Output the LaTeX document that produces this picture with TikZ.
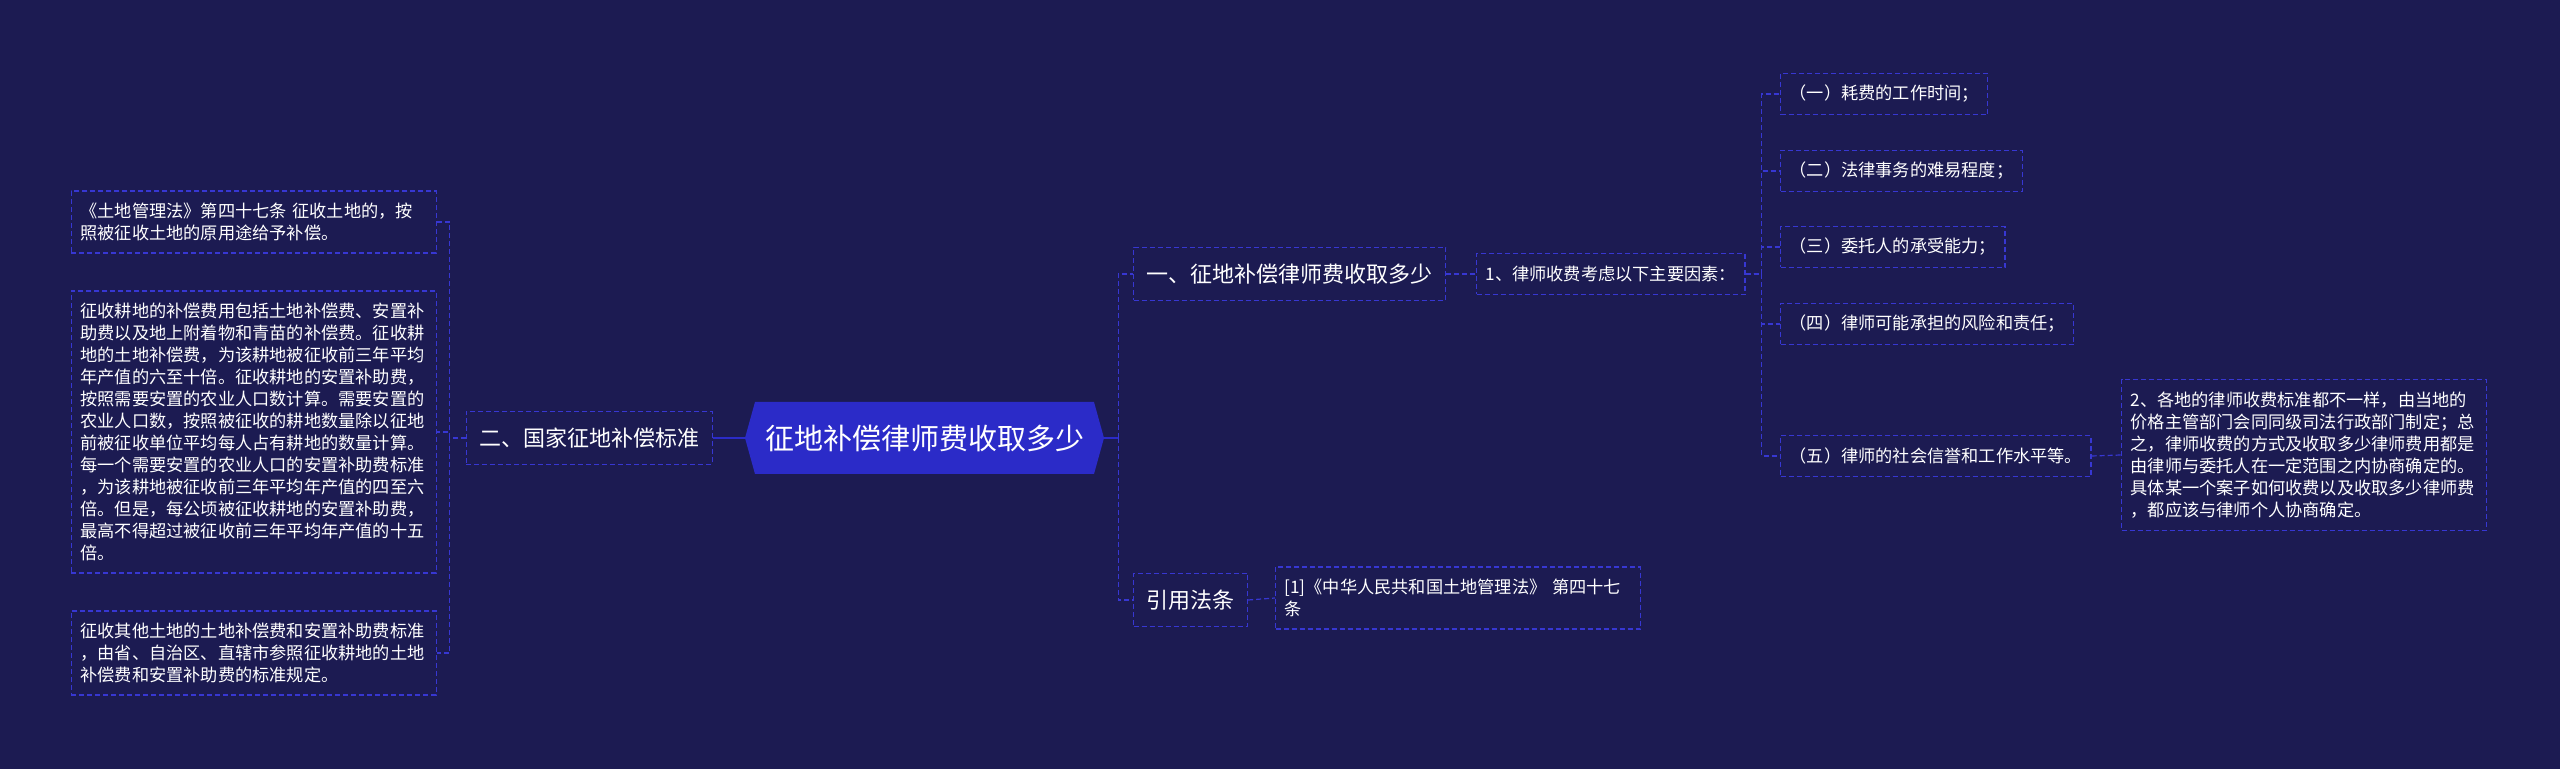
\documentclass[tikz,border=0pt]{standalone}
\usepackage{fontspec}
\setmainfont{Noto Sans CJK SC}
\usepackage{xcolor}
\usepackage{tikz}
\definecolor{navy}{RGB}{28,27,82}
\definecolor{hexblue}{RGB}{43,43,200}
\definecolor{linkblue}{RGB}{55,55,210}

\begin{document}
\begin{tikzpicture}[x=0.5pt, y=-0.5pt,
  box/.style={draw=linkblue, line width=0.6pt, dash pattern=on 2.5pt off 1.5pt, text=white},
  leaf/.style={box, font=\fontsize{8.6}{11}\selectfont, text width=173.5pt, align=left, inner xsep=4.5pt, inner ysep=6pt},
  itembox/.style={box, font=\fontsize{8.6}{11}\selectfont, inner xsep=4.5pt, minimum height=20.5pt},
  topic/.style={box, font=\fontsize{11}{14}\selectfont, inner xsep=6.5pt, minimum height=26.5pt},
  link/.style={draw=linkblue, line width=0.6pt, dash pattern=on 2.5pt off 1.5pt},
  rootlink/.style={draw=hexblue, line width=1pt}]
 \fill [navy] (0,0) rectangle (2560,769);
 % root
 \fill [hexblue] (745,438) -- ++(10,-36) -- ++(339,0) -- ++(10,36) -- ++(-10,36) -- ++(-339,0) -- cycle;
 \node [text=white, font=\fontsize{14.5}{18}\selectfont, minimum width=179.5pt, minimum height=36pt, inner sep=0pt] (root) at (924.5,438) {征地补偿律师费收取多少};
 % left side
 \node [topic, anchor=east] (er) at (713,438) {二、国家征地补偿标准};
 \node [leaf, anchor=east] (l1) at (437,222) {《土地管理法》第四十七条 征收土地的，按\\照被征收土地的原用途给予补偿。};
 \node [leaf, anchor=east] (l2) at (437,432) {征收耕地的补偿费用包括土地补偿费、安置补\\助费以及地上附着物和青苗的补偿费。征收耕\\地的土地补偿费，为该耕地被征收前三年平均\\年产值的六至十倍。征收耕地的安置补助费，\\按照需要安置的农业人口数计算。需要安置的\\农业人口数，按照被征收的耕地数量除以征地\\前被征收单位平均每人占有耕地的数量计算。\\每一个需要安置的农业人口的安置补助费标准\\，为该耕地被征收前三年平均年产值的四至六\\倍。但是，每公顷被征收耕地的安置补助费，\\最高不得超过被征收前三年平均年产值的十五\\倍。};
 \node [leaf, anchor=east] (l3) at (437,653) {征收其他土地的土地补偿费和安置补助费标准\\，由省、自治区、直辖市参照征收耕地的土地\\补偿费和安置补助费的标准规定。};
 \draw [rootlink] (root.west) -- (er.east);
 \foreach \n in {l1,l2,l3}
   \draw [link] (er.west) -- ++(-16,0) |- (\n.east);
 % right side
 \node [topic, anchor=west] (yi) at (1133,274) {一、征地补偿律师费收取多少};
 \node [topic, anchor=west] (yin) at (1133,600) {引用法条};
 \node [itembox, anchor=west] (f1) at (1476,274) {1、律师收费考虑以下主要因素：};
 \foreach \i/\y/\t in {1/94/（一）耗费的工作时间；, 2/171/（二）法律事务的难易程度；, 3/247/（三）委托人的承受能力；, 4/324/（四）律师可能承担的风险和责任；, 5/456/（五）律师的社会信誉和工作水平等。}
   \node [itembox, anchor=west] (a\i) at (1780,\y) {\t};
 \node [leaf, anchor=west] (note) at (2121,455) {2、各地的律师收费标准都不一样，由当地的\\价格主管部门会同同级司法行政部门制定；总\\之，律师收费的方式及收取多少律师费用都是\\由律师与委托人在一定范围之内协商确定的。\\具体某一个案子如何收费以及收取多少律师费\\，都应该与律师个人协商确定。};
 \node [leaf, anchor=west] (ref) at (1275,598) {[1]《中华人民共和国土地管理法》 第四十七\\条};
 \draw [rootlink] (root.east) -- ++(14,0);
 \foreach \n in {yi,yin}
   \draw [link] (root.east) ++(14,0) |- (\n.west);
 \draw [link] (yi.east) -- (f1.west);
 \foreach \n in {a1,a2,a3,a4,a5}
   \draw [link] (f1.east) -- ++(16,0) |- (\n.west);
 \draw [link] (a5.east) -- (note.west);
 \draw [link] (yin.east) -- (ref.west);
\end{tikzpicture}
\end{document}
